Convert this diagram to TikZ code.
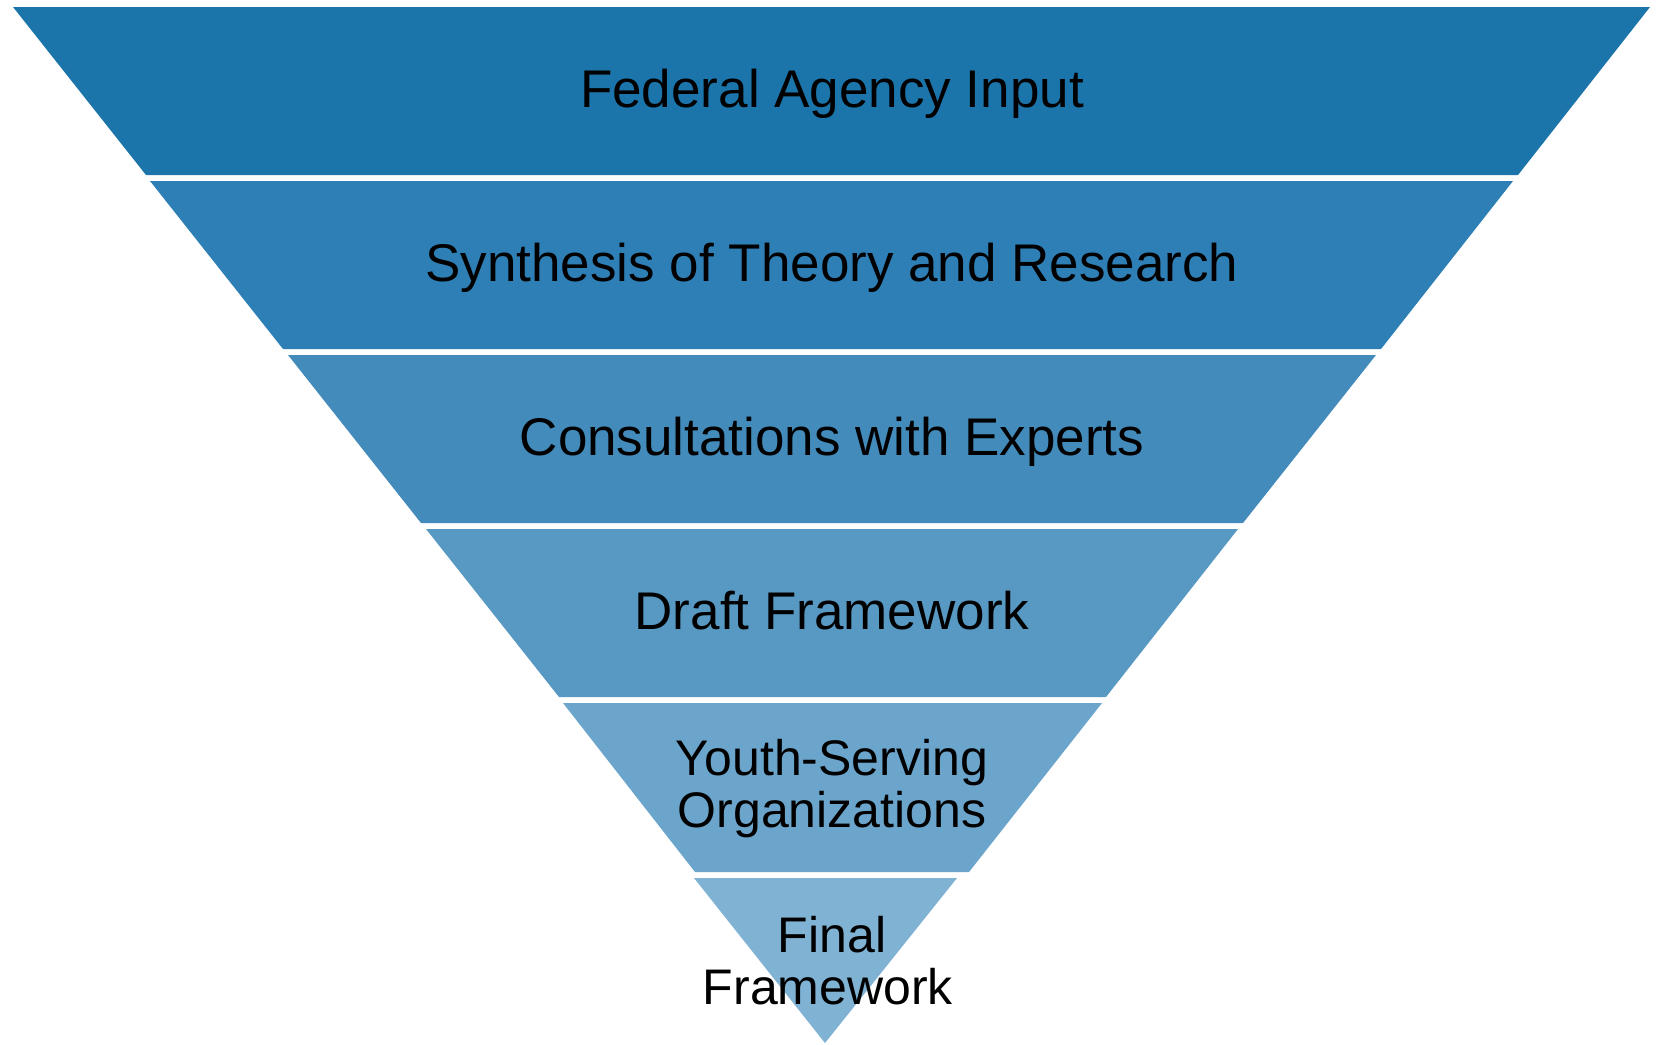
\documentclass[tikz,border=0pt]{standalone}
\usepackage{fontspec}
\setmainfont{Liberation Sans}
\definecolor{cA}{HTML}{1B74AA}
\definecolor{cB}{HTML}{2E7FB5}
\definecolor{cC}{HTML}{438BBB}
\definecolor{cD}{HTML}{5899C4}
\definecolor{cE}{HTML}{6CA5CB}
\definecolor{cF}{HTML}{7FB2D3}
\tikzset{
  band/.style={draw=none},
  lbl/.style={anchor=base, inner sep=0pt, text=black, font=\fontsize{53}{60}\selectfont},
  lbls/.style={anchor=base, inner sep=0pt, text=black, font=\fontsize{50}{56}\selectfont}
}
\begin{document}
\begin{tikzpicture}[x=1pt,y=-1pt]
\useasboundingbox (0,0) rectangle (1659,1044);
\fill[white] (0,0) rectangle (1659,1044);
% bands
\path[band, fill=cA] (13,7) -- (1650,7) -- (1518,175) -- (146,175) -- cycle;
\path[band, fill=cB] (150,181) -- (1513,181) -- (1381,349) -- (283,349) -- cycle;
\path[band, fill=cC] (288,355) -- (1376,355) -- (1243,523) -- (421,523) -- cycle;
\path[band, fill=cD] (426,529) -- (1238,529) -- (1106,697) -- (559,697) -- cycle;
\path[band, fill=cE] (563,703) -- (1102,703) -- (969,872) -- (695,872) -- cycle;
\path[band, fill=cF] (694,878) -- (957,878) -- (825,1043) -- cycle;
% labels
\node[lbl] (t1) at (832,107) {Federal Agency Input};
\node[lbl] (t2) at (832,281) {Synthesis of Theory and Research};
\node[lbl] (t3) at (832,455) {Consultations with Experts};
\node[lbl] (t4) at (832,629) {Draft Framework};
\node[lbls] (t5a) at (832,775) {Youth-Serving};
\node[lbls] (t5b) at (832,827) {Organizations};
\node[lbls] (t6a) at (832,952) {Final};
\node[lbls] (t6b) at (828,1004) {Framework};
\end{tikzpicture}
\end{document}
